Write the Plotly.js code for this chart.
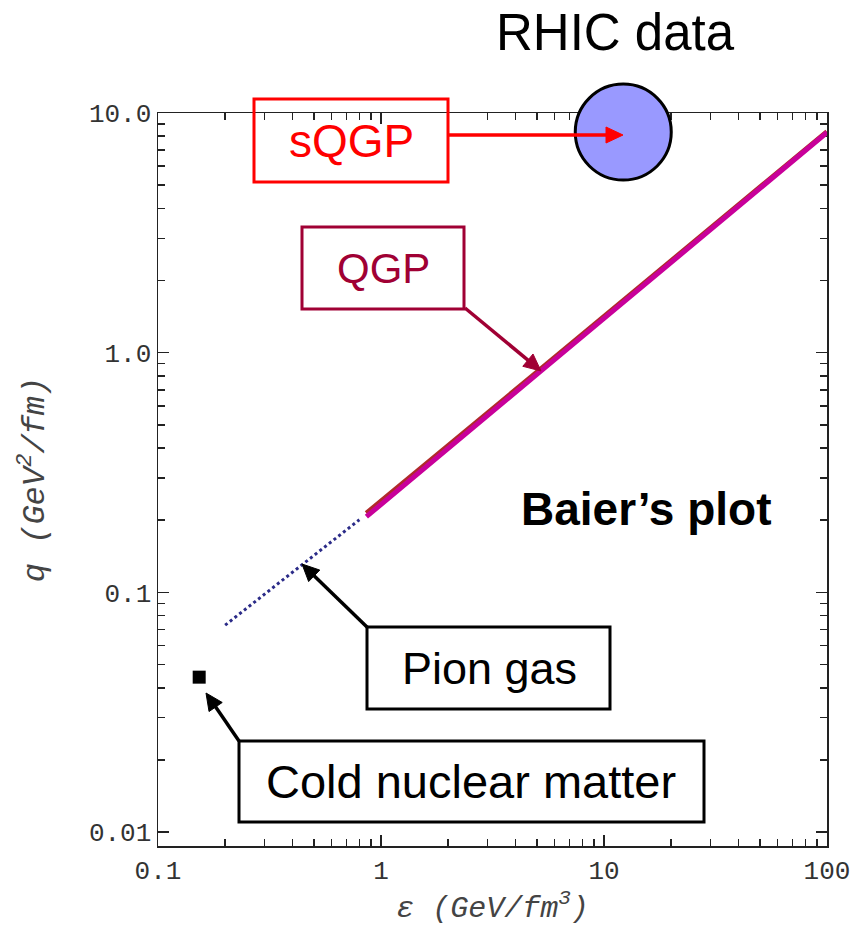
<!DOCTYPE html>
<html>
<head>
<meta charset="utf-8">
<script src="https://cdn.plot.ly/plotly-3.0.1.min.js"></script>
<style>html,body{margin:0;padding:0;background:#fff;}#chart{width:856px;height:926px;}</style>
</head>
<body>
<div id="chart"></div>
<script>
// ---- data ----
const pionEps  = [0.2, 0.3, 0.4, 0.5, 0.6, 0.7, 0.8];
const pionQhat = [0.073, 0.098, 0.121, 0.142, 0.163, 0.182, 0.201];

const qgpEps  = [0.86, 1, 2, 5, 10, 20, 50, 100];
const qgpQhat = [0.207, 0.233, 0.398, 0.812, 1.39, 2.38, 4.85, 8.30];
const qgpRawQhat = [0.214, 0.240, 0.409, 0.830, 1.42, 2.42, 4.90, 8.36];

const coldEps  = [0.153];
const coldQhat = [0.0443];

const rhicEps  = [12.2];
const rhicQhat = [8.33];

const xTickVals = [0.1, 1, 10, 100];
const xTickText = ["0.1", "1", "10", "100"];
const yTickVals = [0.01, 0.1, 1, 10];
const yTickText = ["0.01", "0.1", "1.0", "10.0"];

const xMinor = [0.2,0.3,0.4,0.5,0.6,0.7,0.8,0.9,2,3,4,5,6,7,8,9,20,30,40,50,60,70,80,90];
const yMinor = [0.02,0.03,0.04,0.05,0.06,0.07,0.08,0.09,0.2,0.3,0.4,0.5,0.6,0.7,0.8,0.9,2,3,4,5,6,7,8,9];

// ---- layout geometry helpers (pixel -> paper) ----
const L = 158, R = 827, T = 113, B = 846;
const X = px => (px - L) / (R - L);
const Y = py => (B - py) / (B - T);

const QGPCOL = "#a00034";
const SANS = "Liberation Sans, Arial, sans-serif";

const traces = [
  {x: pionEps, y: pionQhat, mode: "lines", line: {color: "#2b2b88", width: 3, dash: "dot"}, hoverinfo: "skip"},
  {x: qgpEps, y: qgpRawQhat, mode: "lines", line: {color: "#b02a2a", width: 5}, hoverinfo: "skip"},
  {x: qgpEps, y: qgpQhat, mode: "lines", line: {color: "#c8009a", width: 5}, hoverinfo: "skip"},
  {x: coldEps, y: coldQhat, mode: "markers", marker: {symbol: "square", size: 13, color: "#000"}, hoverinfo: "skip"},
  {x: rhicEps, y: rhicQhat, mode: "markers", cliponaxis: false,
   marker: {symbol: "circle", size: 96, color: "#9999ff", line: {color: "#000", width: 3}}, hoverinfo: "skip"}
];

function box(x0, x1, y0, y1, color) {
  return {type: "rect", xref: "paper", yref: "paper", x0: X(x0), x1: X(x1), y0: Y(y1), y1: Y(y0),
          line: {color: color, width: 3}, fillcolor: "rgba(0,0,0,0)", layer: "above"};
}
function label(text, cx, cy, size, color, bold) {
  return {text: text, xref: "paper", yref: "paper", x: X(cx), y: Y(cy), xanchor: "center", yanchor: "middle",
          showarrow: false, font: {family: SANS, size: size, color: color, weight: bold ? "bold" : "normal"}};
}
// arrow drawn as a shaft line + filled triangular head (pixel geometry -> paper)
function arrowShapes(tx, ty, hx, hy, color) {
  const dx = hx - tx, dy = hy - ty, len = Math.hypot(dx, dy);
  const ux = dx / len, uy = dy / len, nx = -uy, ny = ux;
  const hl = 17, hw = 8;
  const bx = hx - ux * hl, by = hy - uy * hl;
  const p = (a, b) => X(a) + "," + Y(b);
  return [
    {type: "line", xref: "paper", yref: "paper", x0: X(tx), y0: Y(ty), x1: X(bx + ux * 2), y1: Y(by + uy * 2),
     line: {color: color, width: 3.5}, layer: "above"},
    {type: "path", xref: "paper", yref: "paper",
     path: "M" + p(hx, hy) + " L" + p(bx + nx * hw, by + ny * hw) + " L" + p(bx - nx * hw, by - ny * hw) + " Z",
     fillcolor: color, line: {color: color, width: 1}, layer: "above"}
  ];
}

const tickFont = {family: "Liberation Mono, Courier New, monospace", size: 26, color: "#333"};

const layout = {
  width: 856, height: 926,
  margin: {l: L, r: 856 - R, t: T, b: 926 - B, pad: 0},
  paper_bgcolor: "#fff", plot_bgcolor: "#fff",
  showlegend: false, hovermode: false,
  xaxis: {
    type: "log", range: [-1, 2], showgrid: false, zeroline: false,
    showline: true, linecolor: "#222", linewidth: 1.5, mirror: "ticks",
    ticks: "inside", ticklen: 11, tickwidth: 1.5, tickcolor: "#222",
    tickmode: "array", tickvals: xTickVals, ticktext: xTickText, tickfont: tickFont,
    minor: {tickmode: "array", tickvals: xMinor, ticks: "inside", ticklen: 7, tickwidth: 1.5, tickcolor: "#222", showgrid: false},
    layer: "below traces",
    title: {text: "ε (GeV/fm<sup>3</sup>)", standoff: 14,
            font: {family: "Liberation Mono, Courier New, monospace", size: 30, color: "#444", style: "italic"}}
  },
  yaxis: {
    type: "log", range: [-2.058, 1.0], showgrid: false, zeroline: false,
    showline: true, linecolor: "#222", linewidth: 1.5, mirror: "ticks",
    ticks: "inside", ticklen: 11, tickwidth: 1.5, tickcolor: "#222",
    tickmode: "array", tickvals: yTickVals, ticktext: yTickText, tickfont: tickFont,
    minor: {tickmode: "array", tickvals: yMinor, ticks: "inside", ticklen: 7, tickwidth: 1.5, tickcolor: "#222", showgrid: false},
    layer: "below traces",
    title: {text: "q (GeV<sup>2</sup>/fm)", standoff: 34,
            font: {family: "Liberation Mono, Courier New, monospace", size: 32, color: "#444", style: "italic"}}
  },
  shapes: [
    box(254, 448, 99, 182, "#ff0000"),
    box(302, 464, 227, 309, QGPCOL),
    box(367, 610, 627, 709, "#000"),
    box(239, 704, 741, 822, "#000")
  ].concat(
    arrowShapes(448, 135, 623, 135, "#ff0000"),
    arrowShapes(465, 308, 541, 371, QGPCOL),
    arrowShapes(368, 628, 302, 564, "#000"),
    arrowShapes(239, 741, 206, 693, "#000")
  ),
  annotations: [
    label("RHIC data", 615, 33, 51, "#000", false),
    label("sQGP", 351, 141, 46, "#ff0000", false),
    label("QGP", 383, 268, 42, QGPCOL, false),
    label("Pion gas", 489, 668, 45, "#000", false),
    label("Cold nuclear matter", 471, 781, 47, "#000", false),
    label("Baier’s plot", 646, 509, 46, "#000", true)
  ]
};

Plotly.newPlot("chart", traces, layout, {displayModeBar: false, staticPlot: true});
</script>
</body>
</html>
